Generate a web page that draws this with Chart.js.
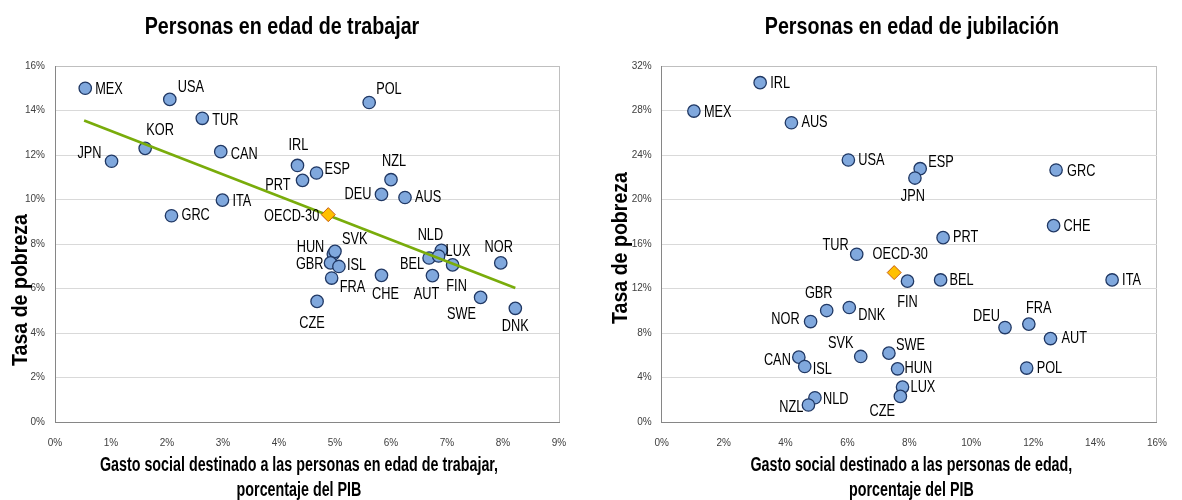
<!DOCTYPE html>
<html><head><meta charset="utf-8">
<script src="https://cdn.jsdelivr.net/npm/chart.js@4.4.1/dist/chart.umd.min.js"></script>
<style>
html,body{margin:0;padding:0;background:#fff;}
#wrap{display:flex;width:1182px;height:500px;}
canvas{display:block;}
</style></head><body>
<div id="wrap"><canvas id="c1" width="591" height="500"></canvas><canvas id="c2" width="591" height="500"></canvas></div>
<script>
// ---------- DATA: working-age panel ----------
const workCountries = ['MEX','USA','TUR','KOR','JPN','CAN','ITA','GRC','IRL','PRT','ESP','POL','NZL','DEU','AUS','HUN','SVK','GBR','ISL','FRA','CZE','CHE','BEL','NLD','LUX','FIN','AUT','SWE','DNK','NOR'];
const workSpend   = [0.54,2.05,2.63,1.61,1.01,2.96,2.99,2.08,4.33,4.42,4.67,5.61,6.00,5.83,6.25,4.97,5.00,4.92,5.07,4.94,4.68,5.83,6.68,6.90,6.85,7.10,6.74,7.60,8.22,7.96];
const workPoverty = [15.0,14.5,13.65,12.3,11.72,12.15,9.97,9.27,11.53,10.86,11.19,14.36,10.89,10.23,10.09,7.55,7.67,7.15,6.99,6.47,5.42,6.59,7.37,7.72,7.46,7.06,6.58,5.60,5.11,7.15];
const workOecdSpend = [4.88];
const workOecdPoverty = [9.32];
const workTrendSpend = [0.52, 8.22];
const workTrendPoverty = [13.55, 6.02];
const workXTicks = [0,1,2,3,4,5,6,7,8,9];
const workYTicks = [0,2,4,6,8,10,12,14,16];

// ---------- DATA: retirement-age panel ----------
const oldCountries = ['IRL','MEX','AUS','USA','TUR','ESP','JPN','GRC','CHE','PRT','FIN','BEL','ITA','DEU','FRA','AUT','SWE','HUN','POL','LUX','CZE','GBR','DNK','NOR','SVK','CAN','ISL','NLD','NZL'];
const oldSpend   = [3.18,1.04,4.19,6.03,6.30,8.35,8.18,12.74,12.66,9.09,7.94,9.01,14.55,11.09,11.86,12.56,7.34,7.62,11.79,7.78,7.71,5.33,6.06,4.81,6.43,4.43,4.62,4.95,4.74];
const oldPoverty = [30.5,27.95,26.9,23.55,15.08,22.77,21.93,22.65,17.65,16.57,12.66,12.77,12.77,8.49,8.80,7.50,6.19,4.78,4.85,3.14,2.30,10.02,10.29,9.03,5.89,5.83,4.99,2.18,1.53];
const oldOecdSpend = [7.51];
const oldOecdPoverty = [13.43];
const oldXTicks = [0,2,4,6,8,10,12,14,16];
const oldYTicks = [0,4,8,12,16,20,24,28,32];

// ---------- label placement (style, not data): [align, dx, dy] ----------
const workLabelPos = [['r',10,1],['r',8,-12],['r',10,2],['c',15,-18],['l',-10,-8],['r',10,3],['r',10,1],['r',10,0],['c',1,-20],['l',-12,5],['r',8,-4],['r',7,-13],['c',3,-18],['l',-10,0],['r',10,0],['l',-9,-7],['r',7,-12],['l',-7,1],['r',8,-1],['r',8,9],['c',-5,22],['c',4,19],['l',-5,6],['c',-11,-15],['r',7,-5],['c',4,21],['c',-6,19],['c',-19,17],['c',0,18],['c',-2,-16]];
const oldLabelPos = [['r',10,1],['r',10,1],['r',10,0],['r',10,0],['l',-8,-9],['r',8,-6],['c',-2,18],['r',11,1],['r',10,1],['r',10,0],['c',0,21],['r',9,0],['r',10,0],['l',-5,-11],['c',10,-16],['r',11,0],['r',7,-8],['r',7,-1],['r',10,0],['r',8,0],['c',-18,15],['c',-8,-17],['r',9,8],['l',-11,-2],['c',-20,-13],['l',-8,3],['r',8,3],['r',8,2],['l',-5,2]];

const FAM = '"Liberation Sans", Arial, sans-serif';

// draw horizontally condensed text (reference uses a narrow typeface)
function cText(ctx, text, x, y, font, sx, align, rot){
  ctx.save();
  ctx.translate(x, y);
  if (rot) ctx.rotate(rot);
  ctx.scale(sx, 1);
  ctx.font = font;
  ctx.textAlign = align;
  ctx.textBaseline = 'middle';
  ctx.fillStyle = '#000';
  ctx.fillText(text, 0, 0);
  ctx.restore();
}

const pts = (xs, ys) => xs.map((x,i)=>({x, y: ys[i]}));

const labelPlugin = {
  id:'pointLabels',
  afterDatasetsDraw(chart, args, opts){
    const ctx = chart.ctx;
    (opts.sets||[]).forEach(s=>{
      const meta = chart.getDatasetMeta(s.datasetIndex);
      meta.data.forEach((el,i)=>{
        const [al,dx,dy] = s.layout[i];
        const align = al==='r'?'left':(al==='l'?'right':'center');
        cText(ctx, s.labels[i], el.x+dx, el.y+dy, `17px ${FAM}`, 0.75, align);
      });
    });
  }
};

const panelText = {
  id:'panelText',
  afterDraw(chart, args, o){
    const ctx = chart.ctx, a = chart.chartArea;
    const cx = (a.left+a.right)/2;
    cText(ctx, o.title, cx + o.titleDx, 27.5, `bold 24px ${FAM}`, 0.82, 'center');
    cText(ctx, o.yTitle, o.yTitleX, (a.top+a.bottom)/2 + o.yTitleDy, `bold 22px ${FAM}`, 0.89, 'center', -Math.PI/2);
    o.xTitle.forEach((line, i) => {
      cText(ctx, line, cx + o.xTitleDx, 465 + i*25, `bold 20px ${FAM}`, 0.715, 'center');
    });
  }
};

function makeChart(id, cfg){
  const nx = cfg.xTicks.length;
  const ny = cfg.yTicks.length;
  const datasets = [
    {label:'OECD-30', data: pts(cfg.oecdX, cfg.oecdY), pointStyle:'rectRot', pointRadius:7, backgroundColor:'#FFC000', borderColor:'#C55A11', borderWidth:1, order:0},
  ];
  if (cfg.trendX) datasets.push({label:'trend', data: pts(cfg.trendX, cfg.trendY), showLine:true, pointRadius:0, borderColor:'#79AC0B', borderWidth:2.6, order:1});
  datasets.push({label:'countries', data: pts(cfg.xs, cfg.ys), pointRadius:6.2, backgroundColor:'#80A8DD', borderColor:'#203864', borderWidth:1.3, order:2});
  const ptsIdx = datasets.length-1;
  return new Chart(document.getElementById(id), {
    type:'scatter',
    data:{datasets},
    plugins:[labelPlugin, panelText],
    options:{
      responsive:false, animation:false, devicePixelRatio:1,
      layout:{padding:{left:0,right:cfg.padRight,top:66,bottom:0}},
      plugins:{
        legend:{display:false}, tooltip:{enabled:false}, title:{display:false},
        pointLabels:{sets:[
          {datasetIndex:ptsIdx, labels:cfg.labels, layout:cfg.layout},
          {datasetIndex:0, labels:['OECD-30'], layout:[cfg.oecdPos]}
        ]},
        panelText:{title:cfg.title, titleDx:cfg.titleDx, yTitle:'Tasa de pobreza', yTitleX:cfg.yTitleX, yTitleDy:cfg.yTitleDy, xTitle:cfg.xTitle, xTitleDx:cfg.xTitleDx}
      },
      scales:{
        x:{
          type:'linear', min:cfg.xTicks[0], max:cfg.xTicks[nx-1],
          afterBuildTicks: s => { s.ticks = cfg.xTicks.map(v=>({value:v})); },
          afterFit: s => { s.height = 78; },
          ticks:{callback:v=>v+'%', font:{family:FAM, size:10}, color:'#404040', padding:15, maxRotation:0},
          grid:{drawTicks:false, color: c => c.index===nx-1 ? '#BFBFBF' : 'rgba(0,0,0,0)', lineWidth:1},
          border:{display:true, color:'#868686', width:1},
          title:{display:false}
        },
        y:{
          type:'linear', min:cfg.yTicks[0], max:cfg.yTicks[ny-1],
          afterBuildTicks: s => { s.ticks = cfg.yTicks.map(v=>({value:v})); },
          afterFit: s => { s.width = cfg.yWidth; },
          ticks:{callback:v=>v+'%', font:{family:FAM, size:10}, color:'#404040', padding:10},
          grid:{drawTicks:false, color: c => c.index===ny-1 ? '#BFBFBF' : '#D9D9D9', lineWidth:1},
          border:{display:true, color:'#868686', width:1}
        }
      }
    }
  });
}

makeChart('c1', {
  xs:workSpend, ys:workPoverty, labels:workCountries, layout:workLabelPos,
  oecdX:workOecdSpend, oecdY:workOecdPoverty, oecdPos:['l',-9,2],
  trendX:workTrendSpend, trendY:workTrendPoverty,
  xTicks:workXTicks, yTicks:workYTicks,
  padRight:32, yWidth:55, title:'Personas en edad de trabajar', titleDx:-25,
  yTitleX:21, yTitleDy:46, xTitleDx:-8,
  xTitle:['Gasto social destinado a las personas en edad de trabajar,','porcentaje del PIB']
});
makeChart('c2', {
  xs:oldSpend, ys:oldPoverty, labels:oldCountries, layout:oldLabelPos,
  oecdX:oldOecdSpend, oecdY:oldOecdPoverty, oecdPos:['c',6,-18],
  xTicks:oldXTicks, yTicks:oldYTicks,
  padRight:8.7, yWidth:70.7, title:'Personas en edad de jubilación', titleDx:2.5,
  yTitleX:30, yTitleDy:4, xTitleDx:2,
  xTitle:['Gasto social destinado a las personas de edad,','porcentaje del PIB']
});
</script>
</body></html>
